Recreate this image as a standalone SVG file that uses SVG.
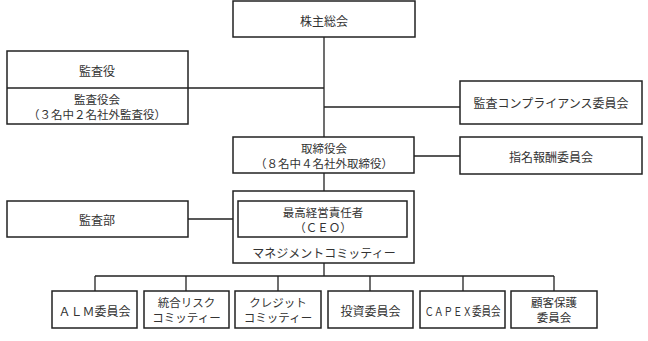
<svg xmlns="http://www.w3.org/2000/svg" width="648" height="341" viewBox="0 0 648 341">
<style>
.box{fill:#fff;stroke:#222;stroke-width:1.5}
.ln{fill:none;stroke:#222;stroke-width:1.3}
text{font-family:"Noto Sans CJK JP","Noto Sans",sans-serif;font-size:12px;fill:#333;text-anchor:middle;dominant-baseline:central}
.two{font-size:11.5px}
</style>
<rect width="648" height="341" fill="#fff"/>
<g id="connectors">
<path class="ln" d="M324 37V137M188 88H324M324 107H460M414 156H460M324 173V191M188 219H238M324 263V276M95 276H554M95 276V291M186 276V291M278 276V291M370 276V291M463 276V291M554 276V291"/>
</g>
<g id="shareholders"><rect class="box" x="233" y="1" width="182" height="36"/><text x="324" y="20">株主総会</text></g>
<g id="kansayaku"><rect class="box" x="7" y="51" width="181" height="73"/><line class="ln" x1="7" y1="88" x2="188" y2="88"/><text x="97" y="70">監査役</text><text class="two" x="97" y="98.5">監査役会</text><text class="two" x="97" y="113.5">（３名中２名社外監査役）</text></g>
<g id="compliance"><rect class="box" x="460" y="81" width="182" height="43"/><text x="551" y="102">監査コンプライアンス委員会</text></g>
<g id="board"><rect class="box" x="233" y="137" width="181" height="36"/><text class="two" x="324" y="147.5">取締役会</text><text class="two" x="324" y="162.5">（８名中４名社外取締役）</text></g>
<g id="nomination"><rect class="box" x="460" y="137" width="182" height="37"/><text x="551" y="156">指名報酬委員会</text></g>
<g id="management"><rect class="box" x="233" y="191" width="181" height="72"/><text x="324" y="252">マネジメントコミッティー</text></g>
<g id="ceo"><rect class="box" x="238" y="201" width="169" height="36"/><text class="two" x="323" y="211.5">最高経営責任者</text><text class="two" x="323" y="226.5">（ＣＥＯ）</text></g>
<g id="audit"><rect class="box" x="7" y="201" width="181" height="36"/><text x="97" y="219">監査部</text></g>
<g id="alm"><rect class="box" x="52" y="291" width="85" height="37"/><text x="94.5" y="310">ＡＬＭ委員会</text></g>
<g id="risk"><rect class="box" x="144" y="291" width="85" height="37"/><text class="two" x="186.5" y="302">統合リスク</text><text class="two" x="186.5" y="317">コミッティー</text></g>
<g id="credit"><rect class="box" x="235" y="291" width="86" height="37"/><text class="two" x="278" y="302">クレジット</text><text class="two" x="278" y="317">コミッティー</text></g>
<g id="invest"><rect class="box" x="328" y="291" width="85" height="37"/><text x="370.5" y="310">投資委員会</text></g>
<g id="capex"><rect class="box" x="420" y="291" width="85" height="37"/><text x="462.5" y="310" textLength="76" lengthAdjust="spacingAndGlyphs">ＣＡＰＥＸ委員会</text></g>
<g id="customer"><rect class="box" x="511" y="291" width="86" height="37"/><text class="two" x="554" y="302">顧客保護</text><text class="two" x="554" y="317">委員会</text></g>
</svg>
